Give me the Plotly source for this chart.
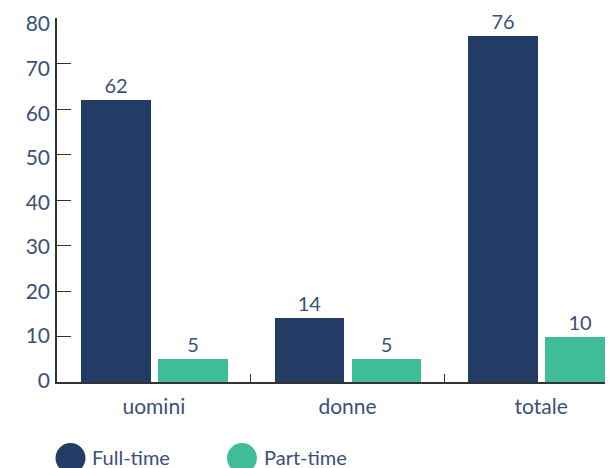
import plotly.graph_objects as go

categories = ["uomini", "donne", "totale"]
full_time = [62, 14, 76]
part_time = [5, 5, 10]
series_names = ["Full-time", "Part-time"]
y_ticks = [0, 10, 20, 30, 40, 50, 60, 70, 80]

NAVY = "#233c65"
GREEN = "#3ebd98"
TXT = "#3b5078"
FONT = "Lato"

# page is rendered with an 8px body margin, so figure coords = reference - 8
W, H = 605, 460
PL, PR, PT, PB = 49, 605, 10, 374  # plot area in figure pixels
PW, PH = PR - PL, PB - PT


def px_x(x):  # reference pixel -> paper
    return (x - 8 - PL) / PW


def px_y(y):
    return (PB - (y - 8)) / PH


fig = go.Figure()
for name, vals, col, off in [(series_names[0], full_time, NAVY, -0.376),
                             (series_names[1], part_time, GREEN, 0.021)]:
    fig.add_trace(go.Bar(
        name=name, x=categories, y=vals, marker=dict(color=col, line=dict(width=0)),
        width=0.36, offset=off, text=[str(v) for v in vals], textposition="outside",
        textfont=dict(color=TXT, size=20, family=FONT), cliponaxis=False,
        showlegend=False))

# invisible helper trace on a second subplot that only carries the y tick labels
fig.add_trace(go.Scatter(x=categories, y=full_time, xaxis="x2", yaxis="y2", mode="markers",
                         marker=dict(opacity=0), hoverinfo="skip", showlegend=False))

# custom legend with large circles
leg = [(series_names[0], NAVY, 70.5, 90), (series_names[1], GREEN, 242, 262)]
for name, col, cx, tx in leg:
    fig.add_shape(type="circle", xref="paper", yref="paper",
                  xsizemode="pixel", ysizemode="pixel",
                  xanchor=px_x(cx), yanchor=px_y(458),
                  x0=-15, x1=15, y0=-15, y1=15,
                  fillcolor=col, line=dict(width=0))
    fig.add_annotation(text=name, xref="paper", yref="paper",
                       x=px_x(tx), y=px_y(457),
                       xanchor="left", yanchor="middle", showarrow=False,
                       font=dict(color=TXT, size=20, family=FONT))

fig.update_layout(
    width=W, height=H, margin=dict(l=PL, r=W - PR, t=PT, b=H - PB, pad=0),
    paper_bgcolor="white", plot_bgcolor="rgba(0,0,0,0)", bargap=0,
    font=dict(family=FONT, color=TXT, size=20),
    showlegend=False,
    xaxis=dict(range=[-0.5, 2.371], showline=True, linecolor="#333333", linewidth=1.5,
               ticks="inside", tickson="boundaries", ticklen=8, tickcolor="#333333",
               showgrid=False, ticklabelstandoff=5, automargin=False,
               tickfont=dict(size=21, color=TXT, family=FONT)),
    yaxis=dict(range=[0, 80], tickvals=y_ticks, showline=True, linecolor="#333333",
               linewidth=1.5, ticks="inside", ticklen=14, tickcolor="#333333",
               showgrid=False, zeroline=False, showticklabels=False, automargin=False),
    # label-only axes: the reference's tick labels sit on a slightly compressed scale
    xaxis2=dict(domain=[0, 1], range=[-0.5, 2.371], visible=False, anchor="y2",
                automargin=False),
    yaxis2=dict(domain=[px_y(380.7), px_y(24)], range=[0, 80], tickvals=y_ticks,
                anchor="x2", showline=False, ticks="", showgrid=False,
                zeroline=False, ticklabelstandoff=6, automargin=False,
                tickfont=dict(size=21, color=TXT, family=FONT)),
)

fig.write_html("out.html")
